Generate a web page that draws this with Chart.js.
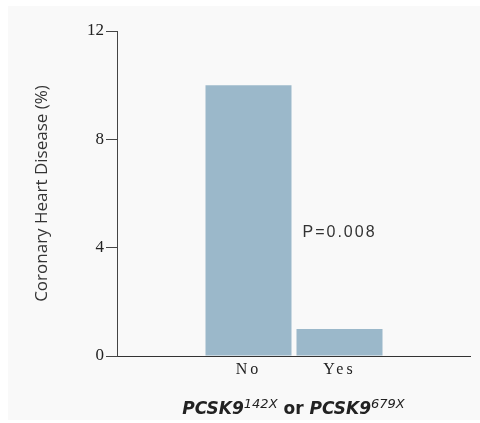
<!DOCTYPE html>
<html>
<head>
<meta charset="utf-8">
<script src="https://cdn.jsdelivr.net/npm/chart.js@4/dist/chart.umd.min.js"></script>
<style>
  html, body { margin: 0; padding: 0; background: #ffffff; }
  #panel { position: absolute; left: 8px; top: 6px; width: 472px; height: 414px; background: #f9f9f9; }
  canvas { display: block; }
</style>
</head>
<body>
<div id="panel"><canvas id="c" width="472" height="414"></canvas></div>
<script>
// ---- data ----
const categories = ['No', 'Yes'];
const chdPercent = [10, 1];
const yTicks = [0, 4, 8, 12];
const yTitle = 'Coronary Heart Disease (%)';
const pValueText = 'P=0.008';
const xTitleRuns = [
  { text: 'PCSK9', kind: 'gene' },
  { text: '142X', kind: 'sup' },
  { text: ' or ', kind: 'plain' },
  { text: 'PCSK9', kind: 'gene' },
  { text: '679X', kind: 'sup' }
];

const barColor = '#9bb8ca';
const inkColor = '#222222';

const runFonts = {
  gene: 'italic bold 17px "DejaVu Sans"',
  sup: 'italic 13px "DejaVu Sans"',
  plain: 'bold 17px "DejaVu Sans"'
};

const decorations = {
  id: 'decorations',
  beforeDraw(chart) {
    const sx = chart.scales.x;
    if (sx && !sx._spaced) {
      const orig = sx.drawLabels.bind(sx);
      sx.drawLabels = function (ca) {
        const c = this.ctx;
        c.save();
        c.letterSpacing = '3px';
        orig(ca);
        c.restore();
      };
      sx._spaced = true;
    }
  },
  afterDraw(chart) {
    const ctx = chart.ctx;
    const ca = chart.chartArea;
    const ys = chart.scales.y;
    const meta = chart.getDatasetMeta(0);
    // P value annotation, anchored to the second bar
    const bar = meta.data[1];
    const props = bar.getProps(['x', 'width'], true);
    ctx.save();
    ctx.font = '16px "Liberation Sans"';
    ctx.letterSpacing = '2px';
    ctx.fillStyle = '#333333';
    ctx.textAlign = 'left';
    ctx.textBaseline = 'middle';
    ctx.fillText(pValueText, props.x - props.width / 2 + 6, ys.getPixelForValue(4.55));
    ctx.restore();

    // rich x-axis title
    ctx.save();
    ctx.fillStyle = inkColor;
    ctx.textBaseline = 'alphabetic';
    ctx.textAlign = 'left';
    let total = 0;
    const widths = xTitleRuns.map(r => {
      ctx.font = runFonts[r.kind];
      const w = ctx.measureText(r.text).width;
      total += w;
      return w;
    });
    let x = (ca.left + ca.right) / 2 - total / 2;
    const base = ca.bottom + 58;
    xTitleRuns.forEach((r, i) => {
      ctx.font = runFonts[r.kind];
      ctx.fillText(r.text, x, r.kind === 'sup' ? base - 6 : base);
      x += widths[i];
    });
    ctx.restore();
  }
};

new Chart(document.getElementById('c'), {
  type: 'bar',
  data: {
    datasets: [{
      data: categories.map((c, i) => ({ x: i, y: chdPercent[i] })),
      backgroundColor: barColor,
      borderWidth: 0,
      categoryPercentage: 1,
      barPercentage: 0.945
    }]
  },
  options: {
    responsive: false,
    animation: false,
    devicePixelRatio: 1,
    layout: { padding: { top: 25, right: 10, left: 0, bottom: 0 } },
    plugins: { legend: { display: false }, tooltip: { enabled: false } },
    scales: {
      x: {
        type: 'linear',
        offset: false,
        bounds: 'data',
        min: -1.445,
        max: 2.434,
        grid: { display: false, drawTicks: false, offset: false },
        border: { display: true, color: '#333333', width: 1 },
        afterBuildTicks(scale) { scale.ticks = categories.map((c, i) => ({ value: i })); },
        afterFit(scale) { scale.height = 64; },
        ticks: {
          autoSkip: false,
          maxRotation: 0,
          padding: 4,
          color: inkColor,
          font: { family: '"Liberation Serif"', size: 16 },
          callback: (v) => categories[v] !== undefined ? categories[v] : ''
        }
      },
      y: {
        min: 0,
        max: 12,
        afterBuildTicks(scale) { scale.ticks = yTicks.map(v => ({ value: v })); },
        afterFit(scale) { scale.width = 109; },
        grid: { drawOnChartArea: false, drawTicks: true, tickLength: 11, color: '#444444', lineWidth: 1 },
        border: { display: true, color: '#444444', width: 1 },
        ticks: {
          padding: 2,
          color: inkColor,
          font: { family: '"Liberation Serif"', size: 17 }
        },
        title: {
          display: true,
          text: yTitle,
          color: '#333333',
          font: { family: '"Open Sans"', size: 17 },
          padding: { top: 24, bottom: 0 }
        }
      }
    }
  },
  plugins: [decorations]
});
</script>
</body>
</html>
